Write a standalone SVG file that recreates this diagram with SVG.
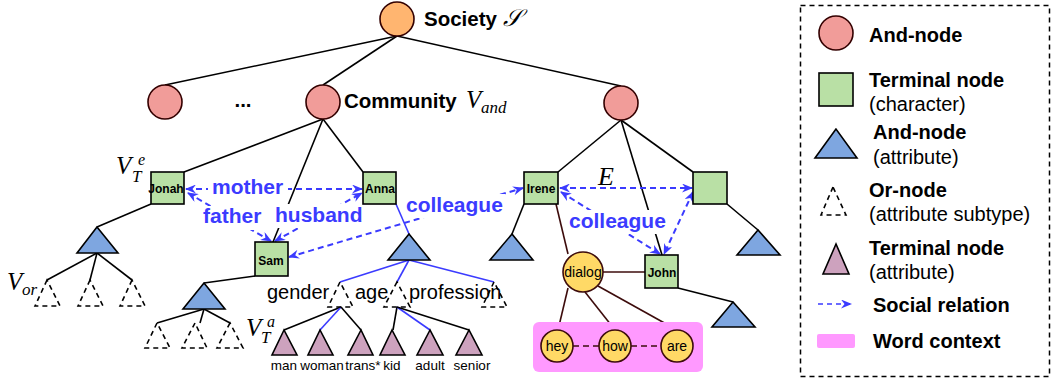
<svg xmlns="http://www.w3.org/2000/svg" width="1052" height="383" viewBox="0 0 1052 383">
<defs>
<style>
.edge{stroke:#000;stroke-width:1.6;fill:none}
.bedge{stroke:#3b3bff;stroke-width:1.6;fill:none}
.wedge{stroke:#3d0c0c;stroke-width:1.6;fill:none}
.rel{stroke:#3b3bff;stroke-width:2;stroke-dasharray:6,4;fill:none;marker-start:url(#ah);marker-end:url(#ah)}
.andc{fill:#f19c99;stroke:#330000;stroke-width:1.6}
.soc{fill:#ffb570;stroke:#330000;stroke-width:1.6}
.term{fill:#b9e0a5;stroke:#000;stroke-width:1.6}
.btri{fill:#7ea6e0;stroke:#000;stroke-width:1.6}
.dtri{fill:none;stroke:#000;stroke-width:1.6;stroke-dasharray:5,4}
.ptri{fill:#cda2be;stroke:#000;stroke-width:1.6}
.word{fill:#ffd966;stroke:#3d0c0c;stroke-width:1.6}
.big{font-family:"Liberation Sans",Arial,sans-serif;font-weight:bold;font-size:20.5px;fill:#000}
.nl{font-family:"Liberation Sans",Arial,sans-serif;font-weight:bold;font-size:12px;fill:#000;text-anchor:middle}
.rl{font-family:"Liberation Sans",Arial,sans-serif;font-weight:bold;font-size:21px;fill:#3b3bff}
.at{font-family:"Liberation Sans",Arial,sans-serif;font-size:20px;fill:#000}
.sm{font-family:"Liberation Sans",Arial,sans-serif;font-size:13.5px;fill:#000;text-anchor:middle}
.wl{font-family:"Liberation Sans",Arial,sans-serif;font-size:14px;fill:#000;text-anchor:middle}
.m{font-family:"Liberation Serif","Times New Roman",serif;font-style:italic;fill:#000}
.lg{font-family:"Liberation Sans",Arial,sans-serif;font-weight:bold;font-size:20px;fill:#000}
.lgn{font-family:"Liberation Sans",Arial,sans-serif;font-size:20px;fill:#000}
</style>
<marker id="ah" markerUnits="userSpaceOnUse" markerWidth="11" markerHeight="9" refX="10" refY="4.5" orient="auto-start-reverse" viewBox="0 0 11 9">
<path d="M0,0 L11,4.5 L0,9 L3.5,4.5 z" fill="#3b3bff"/>
</marker>
</defs>

<g id="connectors">
<line class="edge" x1="397" y1="36" x2="165" y2="85"/>
<line class="edge" x1="397" y1="36" x2="323" y2="85"/>
<line class="edge" x1="397" y1="36" x2="621" y2="86"/>
<line class="edge" x1="323" y1="119" x2="184" y2="172"/>
<line class="edge" x1="323" y1="119" x2="273" y2="242"/>
<line class="edge" x1="323" y1="119" x2="363" y2="172"/>
<line class="edge" x1="621" y1="120" x2="558" y2="172"/>
<line class="edge" x1="621" y1="120" x2="662" y2="255"/>
<line class="edge" x1="621" y1="120" x2="693" y2="172"/>
<line class="edge" x1="151" y1="204" x2="97" y2="227"/>
<line class="edge" x1="97" y1="253" x2="47" y2="280"/>
<line class="edge" x1="97" y1="253" x2="90" y2="280"/>
<line class="edge" x1="97" y1="253" x2="132" y2="280"/>
<line class="edge" x1="255" y1="276" x2="204" y2="283"/>
<line class="edge" x1="204" y1="309" x2="157" y2="323"/>
<line class="edge" x1="204" y1="309" x2="200" y2="323"/>
<line class="edge" x1="204" y1="309" x2="230" y2="323"/>
<line class="bedge" x1="396" y1="204" x2="409" y2="234"/>
<line class="bedge" x1="409" y1="260" x2="340" y2="282"/>
<line class="bedge" x1="409" y1="260" x2="397" y2="282"/>
<line class="bedge" x1="409" y1="260" x2="494" y2="282"/>
<line class="edge" x1="341" y1="307" x2="284" y2="330"/>
<line class="bedge" x1="341" y1="307" x2="320" y2="330"/>
<line class="edge" x1="341" y1="307" x2="361" y2="330"/>
<line class="edge" x1="397" y1="307" x2="393" y2="330"/>
<line class="bedge" x1="397" y1="307" x2="430" y2="330"/>
<line class="edge" x1="397" y1="307" x2="469" y2="330"/>
<line class="edge" x1="524" y1="204" x2="512" y2="234"/>
<line class="edge" x1="727" y1="204" x2="758" y2="230"/>
<line class="edge" x1="678" y1="288" x2="733" y2="302"/>
<line class="wedge" x1="556" y1="204" x2="568" y2="254"/>
<line class="wedge" x1="603" y1="272" x2="645" y2="272"/>
<line class="wedge" x1="568" y1="288" x2="558" y2="330"/>
<line class="wedge" x1="585" y1="292" x2="615" y2="330"/>
<line class="wedge" x1="598" y1="286" x2="677" y2="330"/>
<rect x="533" y="322" width="170" height="50" rx="6" fill="#ff99ff"/>
<line class="wedge" x1="573" y1="346" x2="599" y2="346" stroke-dasharray="6,4"/>
<line class="wedge" x1="631" y1="346" x2="661" y2="346" stroke-dasharray="6,4"/>
<line class="rel" x1="186" y1="189" x2="362" y2="189"/>
<line class="rel" x1="188" y1="193" x2="271" y2="241"/>
<line class="rel" x1="275" y1="241" x2="362" y2="193"/>
<line class="rel" x1="289" y1="257" x2="523" y2="188"/>
<line class="rel" x1="560" y1="188" x2="692" y2="188"/>
<line class="rel" x1="561" y1="192" x2="660" y2="254"/>
<line class="rel" x1="693" y1="192" x2="664" y2="254"/>
</g>

<g id="relation-labels">
<rect x="208" y="176" width="80" height="24" fill="#fff"/>
<text class="rl" x="212" y="194">mother</text>
<rect x="200" y="206" width="64" height="24" fill="#fff"/>
<text class="rl" x="203" y="223">father</text>
<rect x="272" y="204" width="94" height="24" fill="#fff"/>
<text class="rl" x="275" y="222">husband</text>
<rect x="403" y="194" width="102" height="24" fill="#fff"/>
<text class="rl" x="406" y="212">colleague</text>
<rect x="566" y="210" width="102" height="24" fill="#fff"/>
<text class="rl" x="569" y="228">colleague</text>
</g>

<g id="society"><circle class="soc" cx="397" cy="19" r="17"/><text class="big" x="424" y="26">Society</text><text class="m" x="503" y="26" font-size="24" font-family="DejaVu Serif,serif">𝒮</text></g>
<g id="and-left"><circle class="andc" cx="165" cy="102" r="17"/></g>
<g id="ellipsis"><text class="big" x="243" y="107" text-anchor="middle">...</text></g>
<g id="community"><circle class="andc" cx="323" cy="102" r="17"/><text class="big" x="344" y="108">Community</text><text class="m" x="466" y="108" font-size="25">V</text><text class="m" x="481" y="113" font-size="17">and</text></g>
<g id="and-right"><circle class="andc" cx="621" cy="103" r="17"/></g>

<g id="jonah"><rect class="term" x="151" y="172" width="33" height="32"/><text class="nl" x="166" y="193">Jonah</text></g>
<g id="anna"><rect class="term" x="363" y="172" width="33" height="32"/><text class="nl" x="380" y="193">Anna</text></g>
<g id="sam"><rect class="term" x="255" y="242" width="33" height="34"/><text class="nl" x="271" y="265">Sam</text></g>
<g id="irene"><rect class="term" x="524" y="172" width="34" height="32"/><text class="nl" x="541" y="193">Irene</text></g>
<g id="char-right"><rect class="term" x="693" y="172" width="34" height="32"/></g>
<g id="john"><rect class="term" x="645" y="255" width="33" height="33"/><text class="nl" x="662" y="277">John</text></g>

<g id="math-labels">
<text class="m" x="116" y="174" font-size="25">V</text>
<text class="m" x="132" y="182" font-size="17">T</text>
<text class="m" x="138" y="165" font-size="16">e</text>
<text class="m" x="7" y="290" font-size="25">V</text>
<text class="m" x="22" y="295" font-size="17">or</text>
<text class="m" x="246" y="336" font-size="25">V</text>
<text class="m" x="261" y="343" font-size="17">T</text>
<text class="m" x="267" y="327" font-size="16">a</text>
<text class="m" x="598" y="185" font-size="26">E</text>
</g>

<g id="attr-jonah">
<polygon class="btri" points="97,227 77,253 118,253"/>
<polygon class="dtri" points="47,280 35,306 60,306"/>
<polygon class="dtri" points="90,280 78,306 103,306"/>
<polygon class="dtri" points="132,280 120,306 145,306"/>
</g>
<g id="attr-sam">
<polygon class="btri" points="204,283 183,309 225,309"/>
<polygon class="dtri" points="157,323 145,348 170,348"/>
<polygon class="dtri" points="195,323 182,348 207,348"/>
<polygon class="dtri" points="230,323 217,348 243,348"/>
</g>
<g id="attr-anna">
<polygon class="btri" points="409,234 388,260 430,260"/>
<polygon class="dtri" points="340,282 328,307 353,307"/>
<polygon class="dtri" points="397,282 384,307 410,307"/>
<polygon class="dtri" points="494,282 482,307 507,307"/>
<text class="at" x="267" y="299">gender</text>
<text class="at" x="355" y="299">age</text>
<text class="at" x="409" y="299">profession</text>
</g>
<g id="attr-terminals">
<polygon class="ptri" points="284,330 272,355 297,355"/>
<polygon class="ptri" points="320,330 308,355 333,355"/>
<polygon class="ptri" points="361,330 348,355 373,355"/>
<polygon class="ptri" points="392,330 380,355 405,355"/>
<polygon class="ptri" points="430,330 417,355 443,355"/>
<polygon class="ptri" points="469,330 456,355 482,355"/>
<text class="sm" x="284" y="370">man</text>
<text class="sm" x="322" y="370">woman</text>
<text class="sm" x="363" y="370">trans*</text>
<text class="sm" x="392" y="370">kid</text>
<text class="sm" x="430" y="370">adult</text>
<text class="sm" x="472" y="370">senior</text>
</g>
<g id="attr-right">
<polygon class="btri" points="512,234 490,260 533,260"/>
<polygon class="btri" points="758,230 737,255 780,255"/>
<polygon class="btri" points="733,302 712,327 755,327"/>
</g>
<g id="dialog"><circle class="word" cx="583" cy="272" r="20"/><text class="wl" x="583" y="277">dialog</text></g>
<g id="hey"><circle class="word" cx="557" cy="346" r="16"/><text class="wl" x="557" y="351">hey</text></g>
<g id="how"><circle class="word" cx="615" cy="346" r="16"/><text class="wl" x="615" y="351">how</text></g>
<g id="are"><circle class="word" cx="677" cy="346" r="16"/><text class="wl" x="677" y="351">are</text></g>

<g id="legend">
<rect x="800.5" y="5.5" width="249" height="371" fill="none" stroke="#000" stroke-width="1.5" stroke-dasharray="5,4"/>
<circle class="andc" cx="836" cy="33" r="17"/>
<text class="lg" x="869" y="42">And-node</text>
<rect class="term" x="819" y="73" width="34" height="33"/>
<text class="lg" x="869" y="87">Terminal node</text>
<text class="lgn" x="869" y="111">(character)</text>
<polygon class="btri" points="836,129 815,158 857,158"/>
<text class="lg" x="873" y="139">And-node</text>
<text class="lgn" x="873" y="164">(attribute)</text>
<polygon class="dtri" points="833,187 821,215 846,215"/>
<text class="lg" x="869" y="197">Or-node</text>
<text class="lgn" x="869" y="221">(attribute subtype)</text>
<polygon class="ptri" points="836,244 823,274 849,274"/>
<text class="lg" x="869" y="255">Terminal node</text>
<text class="lgn" x="869" y="279">(attribute)</text>
<line x1="818" y1="304" x2="851" y2="304" stroke="#3b3bff" stroke-width="1.5" stroke-dasharray="5,4" marker-end="url(#ah)"/>
<text class="lg" x="873" y="312">Social relation</text>
<rect x="817" y="334" width="38" height="14" rx="2" fill="#ff99ff"/>
<text class="lg" x="873" y="348">Word context</text>
</g>
</svg>
